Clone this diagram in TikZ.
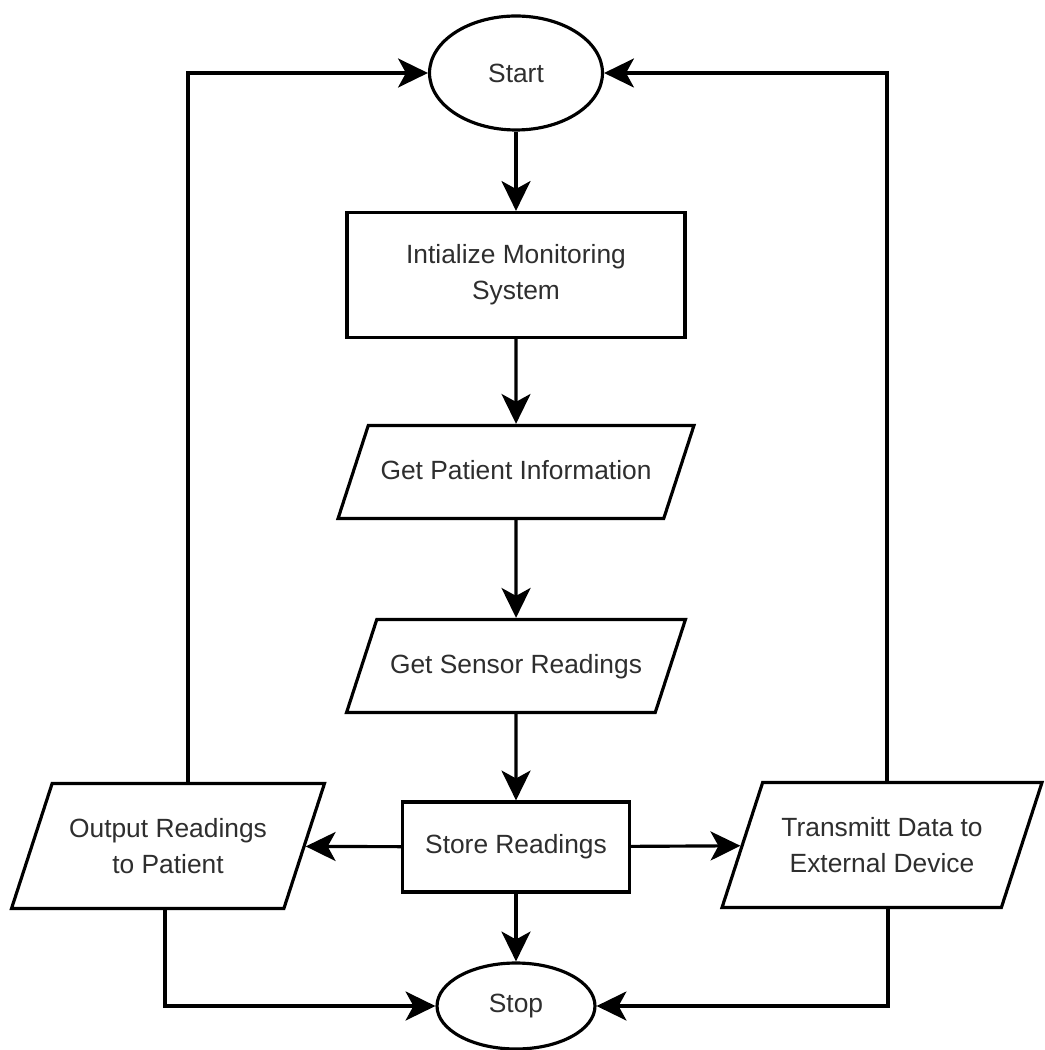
\documentclass[tikz,border=0pt]{standalone}
\usepackage{fontspec}
\setmainfont{Liberation Sans}
\usetikzlibrary{%
  arrows.meta,
  positioning,
  shapes.geometric
}

\begin{document}
\begin{tikzpicture}[x=0.02cm, y=-0.02cm, line width=1.8pt,
    box/.style  = {draw, fill=white, align=center, text=black!82,
                   font=\fontsize{15}{20.5}\selectfont},
    term/.style = {box, ellipse},
    proc/.style = {box, rectangle},
    io/.style   = {box, trapezium, trapezium left angle=72, trapezium right angle=108,
                   trapezium stretches body=true, inner ysep=19.8pt},
    ioline/.style = {io, text height=11pt, text depth=2pt, inner ysep=20pt},
    flow/.style = {-{Stealth[length=17pt, width=16.5pt, inset=4.5pt]}}]
    \useasboundingbox (0,0) rectangle (1044,1050);

    \node [term, minimum width=3.46cm, minimum height=2.28cm] (start)   at (516,73)   {Start};
    \node [proc, minimum width=6.76cm, minimum height=2.5cm]  (init)    at (516,275)  {Intialize Monitoring\\System};
    \node [ioline, minimum width=7.12cm] (patient) at (516,472) {Get Patient Information};
    \node [ioline, minimum width=6.78cm] (sensor)  at (516,666) {Get Sensor Readings};
    \node [proc, minimum width=4.54cm, minimum height=1.8cm]  (store)   at (516,847)  {Store Readings};
    \node [io,   minimum width=6.26cm] (output) at (168,846) {Output Readings\\to Patient};
    \node [io,   minimum width=6.4cm]  (trans)  at (882,845) {Transmitt Data to\\External Device};
    \node [term, minimum width=3.16cm, minimum height=1.72cm] (stop)    at (516,1006) {Stop};

    \foreach \a/\b in {start/init, init/patient, patient/sensor, sensor/store, store/stop}
      \draw [flow] (\a) -- (\b);
    \draw [flow] (store) -- (output);
    \draw [flow] (store) -- (trans);

    \draw [flow] ([xshift=0.4cm]output.north) |- (start.west);
    \draw [flow] ([xshift=0.1cm]trans.north)  |- (start.east);
    \draw [flow] ([xshift=-0.06cm]output.south) |- (stop.west);
    \draw [flow] ([xshift=0.12cm]trans.south)  |- (stop.east);
\end{tikzpicture}
\end{document}
